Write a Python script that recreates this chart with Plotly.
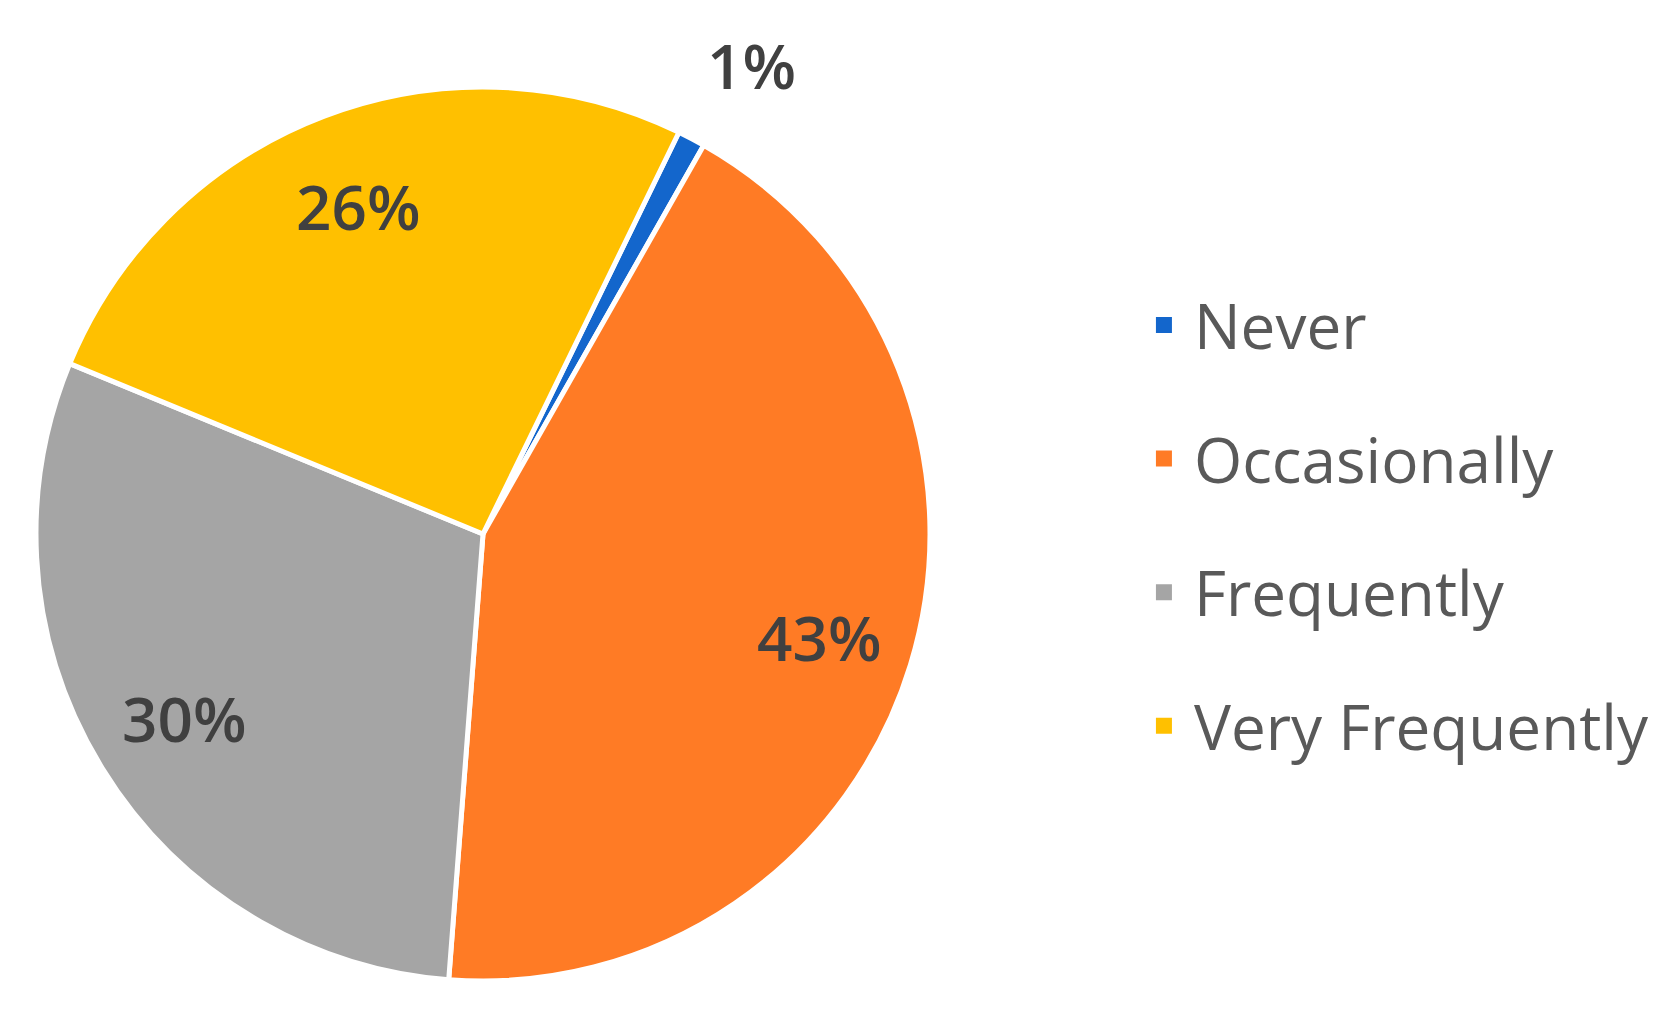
import math
import plotly.graph_objects as go

categories = ["Never", "Occasionally", "Frequently", "Very Frequently"]
values = [1, 43, 30, 26]
colors = ["#1366CC", "#FF7B25", "#A5A5A5", "#FFC000"]
label_inside = [False, True, True, True]

W, H = 1679, 1013
cx, cy, r = 475, 526, 447
rotation = 26

fig = go.Figure()
fig.add_trace(go.Pie(
    labels=categories,
    values=values,
    sort=False,
    direction="clockwise",
    rotation=rotation,
    marker=dict(colors=colors, line=dict(color="white", width=5)),
    textinfo="none",
    showlegend=False,
    domain=dict(x=[(cx - r) / W, (cx + r) / W], y=[(H - cy - r) / H, (H - cy + r) / H]),
    hoverinfo="label+percent",
))

# percentage labels placed along each slice bisector (derived from values)
total = sum(values)
cum = 0
for v, inside in zip(values, label_inside):
    mid = rotation + 360 * (cum + v / 2) / total
    cum += v
    rr = (0.785 if inside else 1.21) * r
    a = math.radians(mid + (0 if inside else 2))
    px = cx + rr * math.sin(a)
    py = cy - rr * math.cos(a)
    fig.add_annotation(
        x=px / W, y=1 - py / H, xref="paper", yref="paper",
        text=f"{round(100 * v / total)}%", showarrow=False,
        xanchor="center", yanchor="middle",
        font=dict(family="Open Sans", size=62, color="#404040", weight=600),
    )

# legend entries derived from the same category/color arrays
for name, col in zip(categories, colors):
    fig.add_trace(go.Scatter(
        x=[None], y=[None], mode="markers", name=name,
        legendgroup=name,
        marker=dict(symbol="square", size=26, color=col),
        showlegend=True, hoverinfo="skip",
    ))

fig.update_layout(
    width=W, height=H,
    margin=dict(l=0, r=0, t=0, b=0),
    paper_bgcolor="white", plot_bgcolor="white",
    xaxis=dict(visible=False), yaxis=dict(visible=False),
    legend=dict(
        x=0.6706, y=0.489, xanchor="left", yanchor="middle",
        font=dict(family="Open Sans", size=62, color="#595959"),
        traceorder="grouped", tracegroupgap=50,
        itemwidth=50, itemsizing="trace",
    ),
)

fig.write_html("out.html")
